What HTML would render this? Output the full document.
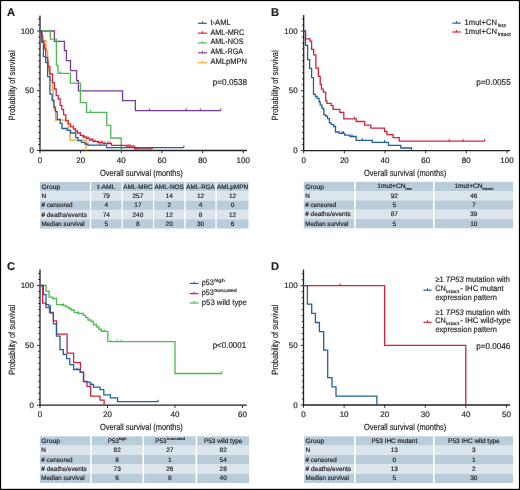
<!DOCTYPE html>
<html><head><meta charset="utf-8"><style>
html,body{margin:0;padding:0;background:#fff;}
body{width:520px;height:490px;overflow:hidden;}
svg{display:block;will-change:transform;}
text{font-family:"Liberation Sans", sans-serif;fill:#231f20;text-rendering:geometricPrecision;stroke:#231f20;stroke-width:0.18px;}
</style></head><body>
<svg width="520" height="490" viewBox="0 0 520 490">
<rect x="0" y="0" width="520" height="490" fill="#fff"/>
<text x="6.90" y="15.90" font-size="11.2" font-weight="bold">A</text>
<line x1="40.00" y1="15.40" x2="40.00" y2="151.15" stroke="#231f20" stroke-width="1.3"/>
<line x1="37.00" y1="150.50" x2="40.00" y2="150.50" stroke="#231f20" stroke-width="0.9"/>
<line x1="38.20" y1="144.53" x2="40.00" y2="144.53" stroke="#231f20" stroke-width="0.9"/>
<line x1="38.20" y1="138.55" x2="40.00" y2="138.55" stroke="#231f20" stroke-width="0.9"/>
<line x1="38.20" y1="132.57" x2="40.00" y2="132.57" stroke="#231f20" stroke-width="0.9"/>
<line x1="38.20" y1="126.60" x2="40.00" y2="126.60" stroke="#231f20" stroke-width="0.9"/>
<line x1="38.20" y1="120.62" x2="40.00" y2="120.62" stroke="#231f20" stroke-width="0.9"/>
<line x1="38.20" y1="114.65" x2="40.00" y2="114.65" stroke="#231f20" stroke-width="0.9"/>
<line x1="38.20" y1="108.67" x2="40.00" y2="108.67" stroke="#231f20" stroke-width="0.9"/>
<line x1="38.20" y1="102.70" x2="40.00" y2="102.70" stroke="#231f20" stroke-width="0.9"/>
<line x1="38.20" y1="96.72" x2="40.00" y2="96.72" stroke="#231f20" stroke-width="0.9"/>
<line x1="37.00" y1="90.75" x2="40.00" y2="90.75" stroke="#231f20" stroke-width="0.9"/>
<line x1="38.20" y1="84.77" x2="40.00" y2="84.77" stroke="#231f20" stroke-width="0.9"/>
<line x1="38.20" y1="78.80" x2="40.00" y2="78.80" stroke="#231f20" stroke-width="0.9"/>
<line x1="38.20" y1="72.83" x2="40.00" y2="72.83" stroke="#231f20" stroke-width="0.9"/>
<line x1="38.20" y1="66.85" x2="40.00" y2="66.85" stroke="#231f20" stroke-width="0.9"/>
<line x1="38.20" y1="60.88" x2="40.00" y2="60.88" stroke="#231f20" stroke-width="0.9"/>
<line x1="38.20" y1="54.90" x2="40.00" y2="54.90" stroke="#231f20" stroke-width="0.9"/>
<line x1="38.20" y1="48.92" x2="40.00" y2="48.92" stroke="#231f20" stroke-width="0.9"/>
<line x1="38.20" y1="42.95" x2="40.00" y2="42.95" stroke="#231f20" stroke-width="0.9"/>
<line x1="38.20" y1="36.97" x2="40.00" y2="36.97" stroke="#231f20" stroke-width="0.9"/>
<line x1="37.00" y1="31.00" x2="40.00" y2="31.00" stroke="#231f20" stroke-width="0.9"/>
<line x1="38.20" y1="25.02" x2="40.00" y2="25.02" stroke="#231f20" stroke-width="0.9"/>
<line x1="38.20" y1="19.05" x2="40.00" y2="19.05" stroke="#231f20" stroke-width="0.9"/>
<line x1="39.35" y1="150.50" x2="246.80" y2="150.50" stroke="#231f20" stroke-width="1.3"/>
<line x1="40.00" y1="150.50" x2="40.00" y2="153.30" stroke="#231f20" stroke-width="0.9"/>
<line x1="80.65" y1="150.50" x2="80.65" y2="153.30" stroke="#231f20" stroke-width="0.9"/>
<line x1="121.30" y1="150.50" x2="121.30" y2="153.30" stroke="#231f20" stroke-width="0.9"/>
<line x1="161.95" y1="150.50" x2="161.95" y2="153.30" stroke="#231f20" stroke-width="0.9"/>
<line x1="202.60" y1="150.50" x2="202.60" y2="153.30" stroke="#231f20" stroke-width="0.9"/>
<line x1="243.25" y1="150.50" x2="243.25" y2="153.30" stroke="#231f20" stroke-width="0.9"/>
<text x="34.00" y="33.60" font-size="8" text-anchor="end">100</text>
<text x="34.00" y="93.35" font-size="8" text-anchor="end">50</text>
<text x="34.00" y="153.10" font-size="8" text-anchor="end">0</text>
<text x="40.00" y="163.00" font-size="8" text-anchor="middle">0</text>
<text x="80.65" y="163.00" font-size="8" text-anchor="middle">20</text>
<text x="121.30" y="163.00" font-size="8" text-anchor="middle">40</text>
<text x="161.95" y="163.00" font-size="8" text-anchor="middle">60</text>
<text x="202.60" y="163.00" font-size="8" text-anchor="middle">80</text>
<text x="243.25" y="163.00" font-size="8" text-anchor="middle">100</text>
<text x="100.00" y="175.80" font-size="9.0" textLength="82.70" lengthAdjust="spacingAndGlyphs">Overall survival (months)</text>
<text x="0" y="0" font-size="9.0" transform="translate(14.6,120.2) rotate(-90)" textLength="69.8" lengthAdjust="spacingAndGlyphs">Probability of survival</text>
<path d="M40.00,31.00H54.40V41.30H64.40V50.70H66.40V60.70H70.50V70.60H76.60V80.70H78.40V90.80H122.60V100.60H135.40V110.60H220.80" fill="none" stroke="#7a3b93" stroke-width="1.3" stroke-linejoin="miter" stroke-linecap="butt"/>
<line x1="149.50" y1="110.60" x2="149.50" y2="108.60" stroke="#7a3b93" stroke-width="1.17"/>
<line x1="186.20" y1="110.60" x2="186.20" y2="108.60" stroke="#7a3b93" stroke-width="1.17"/>
<line x1="200.30" y1="110.60" x2="200.30" y2="108.60" stroke="#7a3b93" stroke-width="1.17"/>
<line x1="220.80" y1="110.60" x2="220.80" y2="108.60" stroke="#7a3b93" stroke-width="1.17"/>
<path d="M40.00,31.00H50.30V39.10H56.40V65.30H58.00V73.40H70.40V83.10H80.40V102.70H86.50V112.30H106.80V125.30H110.80V138.00H121.20V150.50" fill="none" stroke="#4cba4f" stroke-width="1.3" stroke-linejoin="miter" stroke-linecap="butt"/>
<line x1="60.50" y1="73.40" x2="60.50" y2="71.40" stroke="#4cba4f" stroke-width="1.17"/>
<line x1="90.50" y1="112.30" x2="90.50" y2="110.30" stroke="#4cba4f" stroke-width="1.17"/>
<path d="M40.00,31.00H41.80V40.70H46.00V50.60H47.60V60.60H48.50V70.50H50.00V80.40H52.30V90.40H53.00V100.30H54.30V110.20H55.50V120.20H68.30V130.10H70.00V140.10H86.20V150.50" fill="none" stroke="#f7a432" stroke-width="1.3" stroke-linejoin="miter" stroke-linecap="butt"/>
<path d="M40.00,31.00H41.00V33.00H41.80V36.00H42.80V41.30H44.00V45.00H44.70V48.90H45.70V57.60H47.70V66.30H49.80V74.00H52.50V82.60H54.40V89.00H56.20V95.70H58.30V99.00H60.20V105.60H61.90V109.60H63.60V114.90H65.80V120.80H68.30V123.80H70.50V126.50H73.50V129.00H75.50V131.00H77.50V133.00H80.40V135.40H83.00V137.00H86.20V138.30H89.60V140.00H93.00V141.50H97.70V142.50H103.00V143.60H111.50V145.40H126.00V146.20H134.60V148.90H152.30" fill="none" stroke="#d4213e" stroke-width="1.3" stroke-linejoin="miter" stroke-linecap="butt"/>
<line x1="84.00" y1="137.00" x2="84.00" y2="135.00" stroke="#d4213e" stroke-width="1.17"/>
<line x1="88.00" y1="138.30" x2="88.00" y2="136.30" stroke="#d4213e" stroke-width="1.17"/>
<line x1="92.00" y1="140.00" x2="92.00" y2="138.00" stroke="#d4213e" stroke-width="1.17"/>
<line x1="95.00" y1="141.50" x2="95.00" y2="139.50" stroke="#d4213e" stroke-width="1.17"/>
<line x1="99.00" y1="142.50" x2="99.00" y2="140.50" stroke="#d4213e" stroke-width="1.17"/>
<line x1="102.00" y1="142.50" x2="102.00" y2="140.50" stroke="#d4213e" stroke-width="1.17"/>
<line x1="105.00" y1="143.60" x2="105.00" y2="141.60" stroke="#d4213e" stroke-width="1.17"/>
<line x1="108.00" y1="143.60" x2="108.00" y2="141.60" stroke="#d4213e" stroke-width="1.17"/>
<line x1="110.00" y1="143.60" x2="110.00" y2="141.60" stroke="#d4213e" stroke-width="1.17"/>
<line x1="128.00" y1="146.20" x2="128.00" y2="144.20" stroke="#d4213e" stroke-width="1.17"/>
<line x1="130.00" y1="146.20" x2="130.00" y2="144.20" stroke="#d4213e" stroke-width="1.17"/>
<line x1="136.00" y1="148.90" x2="136.00" y2="146.90" stroke="#d4213e" stroke-width="1.17"/>
<line x1="149.00" y1="148.90" x2="149.00" y2="146.90" stroke="#d4213e" stroke-width="1.17"/>
<line x1="152.30" y1="148.90" x2="152.30" y2="146.90" stroke="#d4213e" stroke-width="1.17"/>
<path d="M40.00,31.00H41.80V42.30H43.40V56.60H45.70V62.70H47.60V76.70H49.90V94.20H52.10V100.30H53.80V107.10H55.50V111.60H57.20V119.40H60.20V123.30H62.00V128.50H67.10V130.40H70.60V133.00H75.80V137.70H78.00V140.60H81.50V142.30H85.00V144.00H87.90V145.20H106.70V147.60H183.90" fill="none" stroke="#23609c" stroke-width="1.3" stroke-linejoin="miter" stroke-linecap="butt"/>
<line x1="100.00" y1="145.20" x2="100.00" y2="143.20" stroke="#23609c" stroke-width="1.17"/>
<line x1="183.90" y1="147.60" x2="183.90" y2="145.60" stroke="#23609c" stroke-width="1.17"/>
<line x1="198.00" y1="23.30" x2="206.90" y2="23.30" stroke="#23609c" stroke-width="1.2"/>
<line x1="202.45" y1="23.30" x2="202.45" y2="21.30" stroke="#23609c" stroke-width="1.0"/>
<text x="210.40" y="24.75" font-size="8.0" textLength="20.40" lengthAdjust="spacingAndGlyphs">t-AML</text>
<line x1="198.00" y1="33.15" x2="206.90" y2="33.15" stroke="#d4213e" stroke-width="1.2"/>
<line x1="202.45" y1="33.15" x2="202.45" y2="31.15" stroke="#d4213e" stroke-width="1.0"/>
<text x="210.40" y="34.60" font-size="8.0" textLength="34.00" lengthAdjust="spacingAndGlyphs">AML-MRC</text>
<line x1="198.00" y1="43.00" x2="206.90" y2="43.00" stroke="#4cba4f" stroke-width="1.2"/>
<line x1="202.45" y1="43.00" x2="202.45" y2="41.00" stroke="#4cba4f" stroke-width="1.0"/>
<text x="210.40" y="44.45" font-size="8.0" textLength="33.20" lengthAdjust="spacingAndGlyphs">AML-NOS</text>
<line x1="198.00" y1="52.85" x2="206.90" y2="52.85" stroke="#7a3b93" stroke-width="1.2"/>
<line x1="202.45" y1="52.85" x2="202.45" y2="50.85" stroke="#7a3b93" stroke-width="1.0"/>
<text x="210.40" y="54.30" font-size="8.0" textLength="32.60" lengthAdjust="spacingAndGlyphs">AML-RGA</text>
<line x1="198.00" y1="62.70" x2="206.90" y2="62.70" stroke="#f7a432" stroke-width="1.2"/>
<line x1="202.45" y1="62.70" x2="202.45" y2="60.70" stroke="#f7a432" stroke-width="1.0"/>
<text x="210.40" y="64.15" font-size="8.0" textLength="36.60" lengthAdjust="spacingAndGlyphs">AMLpMPN</text>
<text x="212.80" y="84.70" font-size="8.6" textLength="34.30" lengthAdjust="spacingAndGlyphs">p=0.0538</text>
<rect x="40.00" y="182.00" width="49.90" height="9.30" fill="#b9ccda"/>
<rect x="91.20" y="182.00" width="30.30" height="9.30" fill="#b9ccda"/>
<rect x="122.80" y="182.00" width="30.20" height="9.30" fill="#b9ccda"/>
<rect x="154.20" y="182.00" width="30.00" height="9.30" fill="#b9ccda"/>
<rect x="185.60" y="182.00" width="29.80" height="9.30" fill="#b9ccda"/>
<rect x="216.70" y="182.00" width="31.80" height="9.30" fill="#b9ccda"/>
<rect x="40.00" y="191.30" width="49.90" height="9.30" fill="#dce4ec"/>
<rect x="91.20" y="191.30" width="30.30" height="9.30" fill="#dce4ec"/>
<rect x="122.80" y="191.30" width="30.20" height="9.30" fill="#dce4ec"/>
<rect x="154.20" y="191.30" width="30.00" height="9.30" fill="#dce4ec"/>
<rect x="185.60" y="191.30" width="29.80" height="9.30" fill="#dce4ec"/>
<rect x="216.70" y="191.30" width="31.80" height="9.30" fill="#dce4ec"/>
<rect x="40.00" y="200.60" width="49.90" height="9.30" fill="#b9ccda"/>
<rect x="91.20" y="200.60" width="30.30" height="9.30" fill="#b9ccda"/>
<rect x="122.80" y="200.60" width="30.20" height="9.30" fill="#b9ccda"/>
<rect x="154.20" y="200.60" width="30.00" height="9.30" fill="#b9ccda"/>
<rect x="185.60" y="200.60" width="29.80" height="9.30" fill="#b9ccda"/>
<rect x="216.70" y="200.60" width="31.80" height="9.30" fill="#b9ccda"/>
<rect x="40.00" y="209.90" width="49.90" height="9.30" fill="#dce4ec"/>
<rect x="91.20" y="209.90" width="30.30" height="9.30" fill="#dce4ec"/>
<rect x="122.80" y="209.90" width="30.20" height="9.30" fill="#dce4ec"/>
<rect x="154.20" y="209.90" width="30.00" height="9.30" fill="#dce4ec"/>
<rect x="185.60" y="209.90" width="29.80" height="9.30" fill="#dce4ec"/>
<rect x="216.70" y="209.90" width="31.80" height="9.30" fill="#dce4ec"/>
<rect x="40.00" y="219.20" width="49.90" height="9.30" fill="#b9ccda"/>
<rect x="91.20" y="219.20" width="30.30" height="9.30" fill="#b9ccda"/>
<rect x="122.80" y="219.20" width="30.20" height="9.30" fill="#b9ccda"/>
<rect x="154.20" y="219.20" width="30.00" height="9.30" fill="#b9ccda"/>
<rect x="185.60" y="219.20" width="29.80" height="9.30" fill="#b9ccda"/>
<rect x="216.70" y="219.20" width="31.80" height="9.30" fill="#b9ccda"/>
<text x="41.40" y="188.75" font-size="6.5" textLength="18.80" lengthAdjust="spacingAndGlyphs" stroke-width="0.08">Group</text>
<text x="106.35" y="188.75" font-size="6.5" text-anchor="middle" textLength="18.20" lengthAdjust="spacingAndGlyphs" stroke-width="0.08">t-AML</text>
<text x="137.90" y="188.75" font-size="6.5" text-anchor="middle" textLength="29.30" lengthAdjust="spacingAndGlyphs" stroke-width="0.08">AML-MRC</text>
<text x="169.20" y="188.75" font-size="6.5" text-anchor="middle" textLength="29.40" lengthAdjust="spacingAndGlyphs" stroke-width="0.08">AML-NOS</text>
<text x="200.50" y="188.75" font-size="6.5" text-anchor="middle" textLength="28.40" lengthAdjust="spacingAndGlyphs" stroke-width="0.08">AML-RGA</text>
<text x="232.60" y="188.75" font-size="6.5" text-anchor="middle" textLength="31.00" lengthAdjust="spacingAndGlyphs" stroke-width="0.08">AMLpMPN</text>
<text x="41.40" y="198.05" font-size="6.5" textLength="4.60" lengthAdjust="spacingAndGlyphs" stroke-width="0.08">N</text>
<text x="106.35" y="198.05" font-size="6.5" text-anchor="middle" stroke-width="0.08">79</text>
<text x="137.90" y="198.05" font-size="6.5" text-anchor="middle" stroke-width="0.08">257</text>
<text x="169.20" y="198.05" font-size="6.5" text-anchor="middle" stroke-width="0.08">14</text>
<text x="200.50" y="198.05" font-size="6.5" text-anchor="middle" stroke-width="0.08">12</text>
<text x="232.60" y="198.05" font-size="6.5" text-anchor="middle" stroke-width="0.08">12</text>
<text x="41.40" y="207.35" font-size="6.5" textLength="31.20" lengthAdjust="spacingAndGlyphs" stroke-width="0.08"># censored</text>
<text x="106.35" y="207.35" font-size="6.5" text-anchor="middle" stroke-width="0.08">4</text>
<text x="137.90" y="207.35" font-size="6.5" text-anchor="middle" stroke-width="0.08">17</text>
<text x="169.20" y="207.35" font-size="6.5" text-anchor="middle" stroke-width="0.08">2</text>
<text x="200.50" y="207.35" font-size="6.5" text-anchor="middle" stroke-width="0.08">4</text>
<text x="232.60" y="207.35" font-size="6.5" text-anchor="middle" stroke-width="0.08">0</text>
<text x="41.40" y="216.65" font-size="6.5" textLength="45.50" lengthAdjust="spacingAndGlyphs" stroke-width="0.08"># deaths/events</text>
<text x="106.35" y="216.65" font-size="6.5" text-anchor="middle" stroke-width="0.08">74</text>
<text x="137.90" y="216.65" font-size="6.5" text-anchor="middle" stroke-width="0.08">240</text>
<text x="169.20" y="216.65" font-size="6.5" text-anchor="middle" stroke-width="0.08">12</text>
<text x="200.50" y="216.65" font-size="6.5" text-anchor="middle" stroke-width="0.08">8</text>
<text x="232.60" y="216.65" font-size="6.5" text-anchor="middle" stroke-width="0.08">12</text>
<text x="41.40" y="225.95" font-size="6.5" textLength="43.30" lengthAdjust="spacingAndGlyphs" stroke-width="0.08">Median survival</text>
<text x="106.35" y="225.95" font-size="6.5" text-anchor="middle" stroke-width="0.08">5</text>
<text x="137.90" y="225.95" font-size="6.5" text-anchor="middle" stroke-width="0.08">8</text>
<text x="169.20" y="225.95" font-size="6.5" text-anchor="middle" stroke-width="0.08">20</text>
<text x="200.50" y="225.95" font-size="6.5" text-anchor="middle" stroke-width="0.08">30</text>
<text x="232.60" y="225.95" font-size="6.5" text-anchor="middle" stroke-width="0.08">6</text>
<text x="271.00" y="15.70" font-size="11.2" font-weight="bold">B</text>
<line x1="303.70" y1="14.90" x2="303.70" y2="151.25" stroke="#231f20" stroke-width="1.3"/>
<line x1="300.70" y1="150.60" x2="303.70" y2="150.60" stroke="#231f20" stroke-width="0.9"/>
<line x1="301.90" y1="144.62" x2="303.70" y2="144.62" stroke="#231f20" stroke-width="0.9"/>
<line x1="301.90" y1="138.64" x2="303.70" y2="138.64" stroke="#231f20" stroke-width="0.9"/>
<line x1="301.90" y1="132.66" x2="303.70" y2="132.66" stroke="#231f20" stroke-width="0.9"/>
<line x1="301.90" y1="126.68" x2="303.70" y2="126.68" stroke="#231f20" stroke-width="0.9"/>
<line x1="301.90" y1="120.70" x2="303.70" y2="120.70" stroke="#231f20" stroke-width="0.9"/>
<line x1="301.90" y1="114.72" x2="303.70" y2="114.72" stroke="#231f20" stroke-width="0.9"/>
<line x1="301.90" y1="108.74" x2="303.70" y2="108.74" stroke="#231f20" stroke-width="0.9"/>
<line x1="301.90" y1="102.76" x2="303.70" y2="102.76" stroke="#231f20" stroke-width="0.9"/>
<line x1="301.90" y1="96.78" x2="303.70" y2="96.78" stroke="#231f20" stroke-width="0.9"/>
<line x1="300.70" y1="90.80" x2="303.70" y2="90.80" stroke="#231f20" stroke-width="0.9"/>
<line x1="301.90" y1="84.82" x2="303.70" y2="84.82" stroke="#231f20" stroke-width="0.9"/>
<line x1="301.90" y1="78.84" x2="303.70" y2="78.84" stroke="#231f20" stroke-width="0.9"/>
<line x1="301.90" y1="72.86" x2="303.70" y2="72.86" stroke="#231f20" stroke-width="0.9"/>
<line x1="301.90" y1="66.88" x2="303.70" y2="66.88" stroke="#231f20" stroke-width="0.9"/>
<line x1="301.90" y1="60.90" x2="303.70" y2="60.90" stroke="#231f20" stroke-width="0.9"/>
<line x1="301.90" y1="54.92" x2="303.70" y2="54.92" stroke="#231f20" stroke-width="0.9"/>
<line x1="301.90" y1="48.94" x2="303.70" y2="48.94" stroke="#231f20" stroke-width="0.9"/>
<line x1="301.90" y1="42.96" x2="303.70" y2="42.96" stroke="#231f20" stroke-width="0.9"/>
<line x1="301.90" y1="36.98" x2="303.70" y2="36.98" stroke="#231f20" stroke-width="0.9"/>
<line x1="300.70" y1="31.00" x2="303.70" y2="31.00" stroke="#231f20" stroke-width="0.9"/>
<line x1="301.90" y1="25.02" x2="303.70" y2="25.02" stroke="#231f20" stroke-width="0.9"/>
<line x1="301.90" y1="19.04" x2="303.70" y2="19.04" stroke="#231f20" stroke-width="0.9"/>
<line x1="303.05" y1="150.60" x2="510.20" y2="150.60" stroke="#231f20" stroke-width="1.3"/>
<line x1="303.70" y1="150.60" x2="303.70" y2="153.40" stroke="#231f20" stroke-width="0.9"/>
<line x1="344.35" y1="150.60" x2="344.35" y2="153.40" stroke="#231f20" stroke-width="0.9"/>
<line x1="385.00" y1="150.60" x2="385.00" y2="153.40" stroke="#231f20" stroke-width="0.9"/>
<line x1="425.65" y1="150.60" x2="425.65" y2="153.40" stroke="#231f20" stroke-width="0.9"/>
<line x1="466.30" y1="150.60" x2="466.30" y2="153.40" stroke="#231f20" stroke-width="0.9"/>
<line x1="506.95" y1="150.60" x2="506.95" y2="153.40" stroke="#231f20" stroke-width="0.9"/>
<text x="297.60" y="33.60" font-size="8" text-anchor="end">100</text>
<text x="297.60" y="93.40" font-size="8" text-anchor="end">50</text>
<text x="297.60" y="153.20" font-size="8" text-anchor="end">0</text>
<text x="303.70" y="163.20" font-size="8" text-anchor="middle">0</text>
<text x="344.35" y="163.20" font-size="8" text-anchor="middle">20</text>
<text x="385.00" y="163.20" font-size="8" text-anchor="middle">40</text>
<text x="425.65" y="163.20" font-size="8" text-anchor="middle">60</text>
<text x="466.30" y="163.20" font-size="8" text-anchor="middle">80</text>
<text x="506.95" y="163.20" font-size="8" text-anchor="middle">100</text>
<text x="364.00" y="175.80" font-size="9.0" textLength="82.30" lengthAdjust="spacingAndGlyphs">Overall survival (months)</text>
<text x="0" y="0" font-size="9.0" transform="translate(278.3,120.2) rotate(-90)" textLength="69.8" lengthAdjust="spacingAndGlyphs">Probability of survival</text>
<path d="M303.70,31.00H305.50V38.80H310.00V41.20H311.60V49.40H313.70V54.90H315.90V68.20H318.40V76.40H320.20V84.30H321.40V89.20H323.30V92.20H325.70V100.80H326.90V103.30H331.20V105.70H333.10V109.40H339.80V112.40H343.80V118.80H356.20V121.50H364.60V125.10H370.80V128.20H384.60V131.50H386.90V134.60H393.10V137.70H399.20V141.20H484.60" fill="none" stroke="#d4213e" stroke-width="1.3" stroke-linejoin="miter" stroke-linecap="butt"/>
<line x1="354.60" y1="118.80" x2="354.60" y2="116.80" stroke="#d4213e" stroke-width="1.17"/>
<line x1="449.20" y1="141.20" x2="449.20" y2="139.20" stroke="#d4213e" stroke-width="1.17"/>
<line x1="463.00" y1="141.20" x2="463.00" y2="139.20" stroke="#d4213e" stroke-width="1.17"/>
<line x1="484.60" y1="141.20" x2="484.60" y2="139.20" stroke="#d4213e" stroke-width="1.17"/>
<path d="M303.70,31.00H305.50V45.40H307.60V59.60H309.60V68.40H311.60V77.60H313.50V94.40H315.30V96.50H317.10V98.40H319.00V102.00H320.20V105.10H322.00V108.20H323.30V109.40H323.90V114.90H325.70V116.10H327.50V118.60H329.40V122.90H331.20V124.70H333.70V126.50H335.50V132.00H339.20V133.30H344.60V135.10H350.00V136.50H356.20V140.30H372.30V142.30H388.50V145.40H400.80V148.00H411.50V150.60" fill="none" stroke="#23609c" stroke-width="1.3" stroke-linejoin="miter" stroke-linecap="butt"/>
<line x1="342.00" y1="133.30" x2="342.00" y2="131.30" stroke="#23609c" stroke-width="1.17"/>
<line x1="343.50" y1="133.30" x2="343.50" y2="131.30" stroke="#23609c" stroke-width="1.17"/>
<line x1="352.00" y1="136.50" x2="352.00" y2="134.50" stroke="#23609c" stroke-width="1.17"/>
<line x1="362.30" y1="140.30" x2="362.30" y2="138.30" stroke="#23609c" stroke-width="1.17"/>
<line x1="384.60" y1="142.30" x2="384.60" y2="140.30" stroke="#23609c" stroke-width="1.17"/>
<line x1="452.30" y1="23.10" x2="460.80" y2="23.10" stroke="#23609c" stroke-width="1.2"/>
<line x1="456.55" y1="23.10" x2="456.55" y2="21.10" stroke="#23609c" stroke-width="1.0"/>
<line x1="452.30" y1="32.00" x2="460.80" y2="32.00" stroke="#d4213e" stroke-width="1.2"/>
<line x1="456.55" y1="32.00" x2="456.55" y2="30.00" stroke="#d4213e" stroke-width="1.0"/>
<text x="464.60" y="25.10" font-size="8.0" textLength="32.30" lengthAdjust="spacingAndGlyphs">1mut+CN</text>
<text x="497.80" y="26.60" font-size="5.0" textLength="8.40" lengthAdjust="spacingAndGlyphs" stroke-width="0">loss</text>
<text x="464.60" y="34.30" font-size="8.0" textLength="32.30" lengthAdjust="spacingAndGlyphs">1mut+CN</text>
<text x="497.80" y="35.50" font-size="5.0" textLength="13.00" lengthAdjust="spacingAndGlyphs" stroke-width="0">intact</text>
<text x="476.20" y="84.80" font-size="8.6" textLength="34.60" lengthAdjust="spacingAndGlyphs">p=0.0055</text>
<rect x="303.80" y="181.80" width="50.30" height="9.30" fill="#b9ccda"/>
<rect x="355.70" y="181.80" width="77.30" height="9.30" fill="#b9ccda"/>
<rect x="434.60" y="181.80" width="78.50" height="9.30" fill="#b9ccda"/>
<rect x="303.80" y="191.10" width="50.30" height="9.30" fill="#dce4ec"/>
<rect x="355.70" y="191.10" width="77.30" height="9.30" fill="#dce4ec"/>
<rect x="434.60" y="191.10" width="78.50" height="9.30" fill="#dce4ec"/>
<rect x="303.80" y="200.40" width="50.30" height="9.30" fill="#b9ccda"/>
<rect x="355.70" y="200.40" width="77.30" height="9.30" fill="#b9ccda"/>
<rect x="434.60" y="200.40" width="78.50" height="9.30" fill="#b9ccda"/>
<rect x="303.80" y="209.70" width="50.30" height="9.30" fill="#dce4ec"/>
<rect x="355.70" y="209.70" width="77.30" height="9.30" fill="#dce4ec"/>
<rect x="434.60" y="209.70" width="78.50" height="9.30" fill="#dce4ec"/>
<rect x="303.80" y="219.00" width="50.30" height="9.30" fill="#b9ccda"/>
<rect x="355.70" y="219.00" width="77.30" height="9.30" fill="#b9ccda"/>
<rect x="434.60" y="219.00" width="78.50" height="9.30" fill="#b9ccda"/>
<text x="305.20" y="188.55" font-size="6.5" textLength="18.80" lengthAdjust="spacingAndGlyphs" stroke-width="0.08">Group</text>
<text x="305.20" y="197.85" font-size="6.5" textLength="4.60" lengthAdjust="spacingAndGlyphs" stroke-width="0.08">N</text>
<text x="394.35" y="197.85" font-size="6.5" text-anchor="middle" stroke-width="0.08">92</text>
<text x="473.85" y="197.85" font-size="6.5" text-anchor="middle" stroke-width="0.08">46</text>
<text x="305.20" y="207.15" font-size="6.5" textLength="31.20" lengthAdjust="spacingAndGlyphs" stroke-width="0.08"># censored</text>
<text x="394.35" y="207.15" font-size="6.5" text-anchor="middle" stroke-width="0.08">5</text>
<text x="473.85" y="207.15" font-size="6.5" text-anchor="middle" stroke-width="0.08">7</text>
<text x="305.20" y="216.45" font-size="6.5" textLength="45.50" lengthAdjust="spacingAndGlyphs" stroke-width="0.08"># deaths/events</text>
<text x="394.35" y="216.45" font-size="6.5" text-anchor="middle" stroke-width="0.08">87</text>
<text x="473.85" y="216.45" font-size="6.5" text-anchor="middle" stroke-width="0.08">39</text>
<text x="305.20" y="225.75" font-size="6.5" textLength="43.30" lengthAdjust="spacingAndGlyphs" stroke-width="0.08">Median survival</text>
<text x="394.35" y="225.75" font-size="6.5" text-anchor="middle" stroke-width="0.08">5</text>
<text x="473.85" y="225.75" font-size="6.5" text-anchor="middle" stroke-width="0.08">10</text>
<text x="377.30" y="188.30" font-size="6.5" textLength="28.20" lengthAdjust="spacingAndGlyphs" stroke-width="0.08">1mut+CN</text>
<text x="405.60" y="189.70" font-size="3.8" textLength="6.30" lengthAdjust="spacingAndGlyphs" stroke-width="0">loss</text>
<text x="454.40" y="188.30" font-size="6.5" textLength="28.20" lengthAdjust="spacingAndGlyphs" stroke-width="0.08">1mut+CN</text>
<text x="482.40" y="189.70" font-size="3.8" textLength="11.10" lengthAdjust="spacingAndGlyphs" stroke-width="0">intact</text>
<text x="6.90" y="270.20" font-size="11.2" font-weight="bold">C</text>
<line x1="40.00" y1="269.60" x2="40.00" y2="405.85" stroke="#231f20" stroke-width="1.3"/>
<line x1="37.00" y1="405.20" x2="40.00" y2="405.20" stroke="#231f20" stroke-width="0.9"/>
<line x1="38.20" y1="399.21" x2="40.00" y2="399.21" stroke="#231f20" stroke-width="0.9"/>
<line x1="38.20" y1="393.23" x2="40.00" y2="393.23" stroke="#231f20" stroke-width="0.9"/>
<line x1="38.20" y1="387.25" x2="40.00" y2="387.25" stroke="#231f20" stroke-width="0.9"/>
<line x1="38.20" y1="381.26" x2="40.00" y2="381.26" stroke="#231f20" stroke-width="0.9"/>
<line x1="38.20" y1="375.27" x2="40.00" y2="375.27" stroke="#231f20" stroke-width="0.9"/>
<line x1="38.20" y1="369.29" x2="40.00" y2="369.29" stroke="#231f20" stroke-width="0.9"/>
<line x1="38.20" y1="363.31" x2="40.00" y2="363.31" stroke="#231f20" stroke-width="0.9"/>
<line x1="38.20" y1="357.32" x2="40.00" y2="357.32" stroke="#231f20" stroke-width="0.9"/>
<line x1="38.20" y1="351.33" x2="40.00" y2="351.33" stroke="#231f20" stroke-width="0.9"/>
<line x1="37.00" y1="345.35" x2="40.00" y2="345.35" stroke="#231f20" stroke-width="0.9"/>
<line x1="38.20" y1="339.37" x2="40.00" y2="339.37" stroke="#231f20" stroke-width="0.9"/>
<line x1="38.20" y1="333.38" x2="40.00" y2="333.38" stroke="#231f20" stroke-width="0.9"/>
<line x1="38.20" y1="327.39" x2="40.00" y2="327.39" stroke="#231f20" stroke-width="0.9"/>
<line x1="38.20" y1="321.41" x2="40.00" y2="321.41" stroke="#231f20" stroke-width="0.9"/>
<line x1="38.20" y1="315.43" x2="40.00" y2="315.43" stroke="#231f20" stroke-width="0.9"/>
<line x1="38.20" y1="309.44" x2="40.00" y2="309.44" stroke="#231f20" stroke-width="0.9"/>
<line x1="38.20" y1="303.45" x2="40.00" y2="303.45" stroke="#231f20" stroke-width="0.9"/>
<line x1="38.20" y1="297.47" x2="40.00" y2="297.47" stroke="#231f20" stroke-width="0.9"/>
<line x1="38.20" y1="291.49" x2="40.00" y2="291.49" stroke="#231f20" stroke-width="0.9"/>
<line x1="37.00" y1="285.50" x2="40.00" y2="285.50" stroke="#231f20" stroke-width="0.9"/>
<line x1="38.20" y1="279.51" x2="40.00" y2="279.51" stroke="#231f20" stroke-width="0.9"/>
<line x1="38.20" y1="273.53" x2="40.00" y2="273.53" stroke="#231f20" stroke-width="0.9"/>
<line x1="39.35" y1="405.20" x2="246.80" y2="405.20" stroke="#231f20" stroke-width="1.3"/>
<line x1="40.00" y1="405.20" x2="40.00" y2="408.00" stroke="#231f20" stroke-width="0.9"/>
<line x1="107.50" y1="405.20" x2="107.50" y2="408.00" stroke="#231f20" stroke-width="0.9"/>
<line x1="175.00" y1="405.20" x2="175.00" y2="408.00" stroke="#231f20" stroke-width="0.9"/>
<line x1="242.50" y1="405.20" x2="242.50" y2="408.00" stroke="#231f20" stroke-width="0.9"/>
<text x="34.00" y="288.10" font-size="8" text-anchor="end">100</text>
<text x="34.00" y="347.95" font-size="8" text-anchor="end">50</text>
<text x="34.00" y="407.80" font-size="8" text-anchor="end">0</text>
<text x="40.00" y="417.00" font-size="8" text-anchor="middle">0</text>
<text x="107.50" y="417.00" font-size="8" text-anchor="middle">20</text>
<text x="175.00" y="417.00" font-size="8" text-anchor="middle">40</text>
<text x="242.50" y="417.00" font-size="8" text-anchor="middle">60</text>
<text x="100.00" y="430.40" font-size="9.0" textLength="82.70" lengthAdjust="spacingAndGlyphs">Overall survival (months)</text>
<text x="0" y="0" font-size="9.0" transform="translate(14.6,374.8) rotate(-90)" textLength="70.2" lengthAdjust="spacingAndGlyphs">Probability of survival</text>
<path d="M40.00,285.50H46.00V291.10H49.10V297.20H52.60V298.50H56.50V304.60H62.60V305.40H65.70V306.90H68.80V308.50H71.10V310.00H74.20V312.30H78.00V313.50H83.40V315.40H85.70V317.70H88.00V320.00H91.10V321.50H93.40V324.90H96.50V326.90H98.80V329.20H101.10V331.30H107.80V341.70H175.00V373.50H222.00" fill="none" stroke="#4cba4f" stroke-width="1.3" stroke-linejoin="miter" stroke-linecap="butt"/>
<line x1="101.50" y1="331.30" x2="101.50" y2="329.30" stroke="#4cba4f" stroke-width="1.17"/>
<line x1="104.20" y1="331.30" x2="104.20" y2="329.30" stroke="#4cba4f" stroke-width="1.17"/>
<line x1="110.60" y1="341.70" x2="110.60" y2="339.70" stroke="#4cba4f" stroke-width="1.17"/>
<line x1="117.30" y1="341.70" x2="117.30" y2="339.70" stroke="#4cba4f" stroke-width="1.17"/>
<line x1="121.20" y1="341.70" x2="121.20" y2="339.70" stroke="#4cba4f" stroke-width="1.17"/>
<line x1="222.00" y1="373.50" x2="222.00" y2="371.50" stroke="#4cba4f" stroke-width="1.17"/>
<line x1="63.50" y1="305.40" x2="63.50" y2="303.40" stroke="#4cba4f" stroke-width="1.17"/>
<line x1="78.50" y1="313.50" x2="78.50" y2="311.50" stroke="#4cba4f" stroke-width="1.17"/>
<line x1="96.00" y1="324.90" x2="96.00" y2="322.90" stroke="#4cba4f" stroke-width="1.17"/>
<path d="M40.00,285.50H42.60V303.10H46.00V307.70H49.50V312.30H53.40V320.80H56.50V334.10H67.10V353.20H73.60V362.70H80.40V372.40H83.70V381.90H87.00V386.30H90.60V396.10H100.00V400.20H104.10V405.20" fill="none" stroke="#d4213e" stroke-width="1.3" stroke-linejoin="miter" stroke-linecap="butt"/>
<path d="M40.00,285.50H43.40V294.60H46.00V304.60H48.50V305.80H50.30V313.10H53.40V323.80H56.50V336.20H60.00V349.60H63.30V354.50H66.60V358.60H69.80V364.60H73.60V369.50H80.10V372.10H83.40V381.40H87.00V382.20H90.20V384.70H93.50V387.10H100.00V389.60H103.80V394.80H110.30V397.80H117.50V401.70H158.10" fill="none" stroke="#23609c" stroke-width="1.3" stroke-linejoin="miter" stroke-linecap="butt"/>
<line x1="77.00" y1="369.50" x2="77.00" y2="367.50" stroke="#23609c" stroke-width="1.17"/>
<line x1="92.00" y1="384.70" x2="92.00" y2="382.70" stroke="#23609c" stroke-width="1.17"/>
<line x1="158.10" y1="401.70" x2="158.10" y2="399.70" stroke="#23609c" stroke-width="1.17"/>
<line x1="189.70" y1="283.50" x2="198.50" y2="283.50" stroke="#23609c" stroke-width="1.2"/>
<line x1="194.10" y1="283.50" x2="194.10" y2="281.50" stroke="#23609c" stroke-width="1.0"/>
<line x1="189.70" y1="293.60" x2="198.50" y2="293.60" stroke="#d4213e" stroke-width="1.2"/>
<line x1="194.10" y1="293.60" x2="194.10" y2="291.60" stroke="#d4213e" stroke-width="1.0"/>
<line x1="189.70" y1="303.00" x2="198.50" y2="303.00" stroke="#4cba4f" stroke-width="1.2"/>
<line x1="194.10" y1="303.00" x2="194.10" y2="301.00" stroke="#4cba4f" stroke-width="1.0"/>
<text x="201.80" y="285.10" font-size="8.0" textLength="12.10" lengthAdjust="spacingAndGlyphs">p53</text>
<text x="214.30" y="282.10" font-size="4.6" textLength="10.40" lengthAdjust="spacingAndGlyphs" stroke-width="0">high</text>
<text x="201.80" y="295.00" font-size="8.0" textLength="12.10" lengthAdjust="spacingAndGlyphs">p53</text>
<text x="214.30" y="292.00" font-size="4.6" textLength="22.50" lengthAdjust="spacingAndGlyphs" stroke-width="0">truncated</text>
<text x="201.80" y="304.60" font-size="8.0" textLength="45.10" lengthAdjust="spacingAndGlyphs">p53 wild type</text>
<text x="212.70" y="347.90" font-size="8.6" textLength="33.50" lengthAdjust="spacingAndGlyphs">p&lt;0.0001</text>
<rect x="39.90" y="436.30" width="50.30" height="9.35" fill="#b9ccda"/>
<rect x="91.80" y="436.30" width="50.70" height="9.35" fill="#b9ccda"/>
<rect x="144.10" y="436.30" width="51.40" height="9.35" fill="#b9ccda"/>
<rect x="197.20" y="436.30" width="51.90" height="9.35" fill="#b9ccda"/>
<rect x="39.90" y="445.65" width="50.30" height="9.35" fill="#dce4ec"/>
<rect x="91.80" y="445.65" width="50.70" height="9.35" fill="#dce4ec"/>
<rect x="144.10" y="445.65" width="51.40" height="9.35" fill="#dce4ec"/>
<rect x="197.20" y="445.65" width="51.90" height="9.35" fill="#dce4ec"/>
<rect x="39.90" y="455.00" width="50.30" height="9.35" fill="#b9ccda"/>
<rect x="91.80" y="455.00" width="50.70" height="9.35" fill="#b9ccda"/>
<rect x="144.10" y="455.00" width="51.40" height="9.35" fill="#b9ccda"/>
<rect x="197.20" y="455.00" width="51.90" height="9.35" fill="#b9ccda"/>
<rect x="39.90" y="464.35" width="50.30" height="9.35" fill="#dce4ec"/>
<rect x="91.80" y="464.35" width="50.70" height="9.35" fill="#dce4ec"/>
<rect x="144.10" y="464.35" width="51.40" height="9.35" fill="#dce4ec"/>
<rect x="197.20" y="464.35" width="51.90" height="9.35" fill="#dce4ec"/>
<rect x="39.90" y="473.70" width="50.30" height="9.35" fill="#b9ccda"/>
<rect x="91.80" y="473.70" width="50.70" height="9.35" fill="#b9ccda"/>
<rect x="144.10" y="473.70" width="51.40" height="9.35" fill="#b9ccda"/>
<rect x="197.20" y="473.70" width="51.90" height="9.35" fill="#b9ccda"/>
<text x="41.30" y="443.05" font-size="6.5" textLength="18.80" lengthAdjust="spacingAndGlyphs" stroke-width="0.08">Group</text>
<text x="223.15" y="443.05" font-size="6.5" text-anchor="middle" textLength="38.30" lengthAdjust="spacingAndGlyphs" stroke-width="0.08">P53 wild type</text>
<text x="41.30" y="452.40" font-size="6.5" textLength="4.60" lengthAdjust="spacingAndGlyphs" stroke-width="0.08">N</text>
<text x="117.15" y="452.40" font-size="6.5" text-anchor="middle" stroke-width="0.08">82</text>
<text x="169.80" y="452.40" font-size="6.5" text-anchor="middle" stroke-width="0.08">27</text>
<text x="223.15" y="452.40" font-size="6.5" text-anchor="middle" stroke-width="0.08">82</text>
<text x="41.30" y="461.75" font-size="6.5" textLength="31.20" lengthAdjust="spacingAndGlyphs" stroke-width="0.08"># censored</text>
<text x="117.15" y="461.75" font-size="6.5" text-anchor="middle" stroke-width="0.08">8</text>
<text x="169.80" y="461.75" font-size="6.5" text-anchor="middle" stroke-width="0.08">1</text>
<text x="223.15" y="461.75" font-size="6.5" text-anchor="middle" stroke-width="0.08">54</text>
<text x="41.30" y="471.10" font-size="6.5" textLength="45.50" lengthAdjust="spacingAndGlyphs" stroke-width="0.08"># deaths/events</text>
<text x="117.15" y="471.10" font-size="6.5" text-anchor="middle" stroke-width="0.08">73</text>
<text x="169.80" y="471.10" font-size="6.5" text-anchor="middle" stroke-width="0.08">26</text>
<text x="223.15" y="471.10" font-size="6.5" text-anchor="middle" stroke-width="0.08">28</text>
<text x="41.30" y="480.45" font-size="6.5" textLength="43.30" lengthAdjust="spacingAndGlyphs" stroke-width="0.08">Median survival</text>
<text x="117.15" y="480.45" font-size="6.5" text-anchor="middle" stroke-width="0.08">6</text>
<text x="169.80" y="480.45" font-size="6.5" text-anchor="middle" stroke-width="0.08">8</text>
<text x="223.15" y="480.45" font-size="6.5" text-anchor="middle" stroke-width="0.08">40</text>
<text x="107.70" y="442.90" font-size="6.6" textLength="11.20" lengthAdjust="spacingAndGlyphs" stroke-width="0.08">P53</text>
<text x="118.80" y="440.20" font-size="3.8" textLength="7.80" lengthAdjust="spacingAndGlyphs" stroke-width="0">high</text>
<text x="155.20" y="442.90" font-size="6.6" textLength="11.20" lengthAdjust="spacingAndGlyphs" stroke-width="0.08">P53</text>
<text x="166.80" y="440.20" font-size="3.8" textLength="18.00" lengthAdjust="spacingAndGlyphs" stroke-width="0">truncated</text>
<text x="270.90" y="270.30" font-size="11.2" font-weight="bold">D</text>
<line x1="303.50" y1="269.50" x2="303.50" y2="405.65" stroke="#231f20" stroke-width="1.3"/>
<line x1="300.50" y1="405.00" x2="303.50" y2="405.00" stroke="#231f20" stroke-width="0.9"/>
<line x1="301.70" y1="399.04" x2="303.50" y2="399.04" stroke="#231f20" stroke-width="0.9"/>
<line x1="301.70" y1="393.07" x2="303.50" y2="393.07" stroke="#231f20" stroke-width="0.9"/>
<line x1="301.70" y1="387.11" x2="303.50" y2="387.11" stroke="#231f20" stroke-width="0.9"/>
<line x1="301.70" y1="381.14" x2="303.50" y2="381.14" stroke="#231f20" stroke-width="0.9"/>
<line x1="301.70" y1="375.18" x2="303.50" y2="375.18" stroke="#231f20" stroke-width="0.9"/>
<line x1="301.70" y1="369.21" x2="303.50" y2="369.21" stroke="#231f20" stroke-width="0.9"/>
<line x1="301.70" y1="363.25" x2="303.50" y2="363.25" stroke="#231f20" stroke-width="0.9"/>
<line x1="301.70" y1="357.28" x2="303.50" y2="357.28" stroke="#231f20" stroke-width="0.9"/>
<line x1="301.70" y1="351.31" x2="303.50" y2="351.31" stroke="#231f20" stroke-width="0.9"/>
<line x1="300.50" y1="345.35" x2="303.50" y2="345.35" stroke="#231f20" stroke-width="0.9"/>
<line x1="301.70" y1="339.38" x2="303.50" y2="339.38" stroke="#231f20" stroke-width="0.9"/>
<line x1="301.70" y1="333.42" x2="303.50" y2="333.42" stroke="#231f20" stroke-width="0.9"/>
<line x1="301.70" y1="327.45" x2="303.50" y2="327.45" stroke="#231f20" stroke-width="0.9"/>
<line x1="301.70" y1="321.49" x2="303.50" y2="321.49" stroke="#231f20" stroke-width="0.9"/>
<line x1="301.70" y1="315.52" x2="303.50" y2="315.52" stroke="#231f20" stroke-width="0.9"/>
<line x1="301.70" y1="309.56" x2="303.50" y2="309.56" stroke="#231f20" stroke-width="0.9"/>
<line x1="301.70" y1="303.60" x2="303.50" y2="303.60" stroke="#231f20" stroke-width="0.9"/>
<line x1="301.70" y1="297.63" x2="303.50" y2="297.63" stroke="#231f20" stroke-width="0.9"/>
<line x1="301.70" y1="291.66" x2="303.50" y2="291.66" stroke="#231f20" stroke-width="0.9"/>
<line x1="300.50" y1="285.70" x2="303.50" y2="285.70" stroke="#231f20" stroke-width="0.9"/>
<line x1="301.70" y1="279.74" x2="303.50" y2="279.74" stroke="#231f20" stroke-width="0.9"/>
<line x1="301.70" y1="273.77" x2="303.50" y2="273.77" stroke="#231f20" stroke-width="0.9"/>
<line x1="302.85" y1="405.00" x2="510.00" y2="405.00" stroke="#231f20" stroke-width="1.3"/>
<line x1="303.50" y1="405.00" x2="303.50" y2="407.80" stroke="#231f20" stroke-width="0.9"/>
<line x1="344.10" y1="405.00" x2="344.10" y2="407.80" stroke="#231f20" stroke-width="0.9"/>
<line x1="384.70" y1="405.00" x2="384.70" y2="407.80" stroke="#231f20" stroke-width="0.9"/>
<line x1="425.30" y1="405.00" x2="425.30" y2="407.80" stroke="#231f20" stroke-width="0.9"/>
<line x1="465.90" y1="405.00" x2="465.90" y2="407.80" stroke="#231f20" stroke-width="0.9"/>
<line x1="506.50" y1="405.00" x2="506.50" y2="407.80" stroke="#231f20" stroke-width="0.9"/>
<text x="297.60" y="288.30" font-size="8" text-anchor="end">100</text>
<text x="297.60" y="347.95" font-size="8" text-anchor="end">50</text>
<text x="297.60" y="407.60" font-size="8" text-anchor="end">0</text>
<text x="303.50" y="417.00" font-size="8" text-anchor="middle">0</text>
<text x="344.10" y="417.00" font-size="8" text-anchor="middle">10</text>
<text x="384.70" y="417.00" font-size="8" text-anchor="middle">20</text>
<text x="425.30" y="417.00" font-size="8" text-anchor="middle">30</text>
<text x="465.90" y="417.00" font-size="8" text-anchor="middle">40</text>
<text x="506.50" y="417.00" font-size="8" text-anchor="middle">50</text>
<text x="364.00" y="430.40" font-size="9.0" textLength="82.30" lengthAdjust="spacingAndGlyphs">Overall survival (months)</text>
<text x="0" y="0" font-size="9.0" transform="translate(278.3,374.8) rotate(-90)" textLength="70.2" lengthAdjust="spacingAndGlyphs">Probability of survival</text>
<path d="M303.50,285.70H384.60V345.40H465.80V405.00" fill="none" stroke="#d4213e" stroke-width="1.3" stroke-linejoin="miter" stroke-linecap="butt"/>
<line x1="340.20" y1="285.70" x2="340.20" y2="283.70" stroke="#d4213e" stroke-width="1.17"/>
<path d="M303.50,285.70H307.40V304.10H311.70V313.30H315.40V322.50H319.40V331.70H323.70V350.10H327.70V377.70H332.00V386.90H336.00V396.10H376.90V405.00" fill="none" stroke="#23609c" stroke-width="1.3" stroke-linejoin="miter" stroke-linecap="butt"/>
<line x1="423.50" y1="290.20" x2="431.50" y2="290.20" stroke="#23609c" stroke-width="1.2"/>
<line x1="427.50" y1="290.20" x2="427.50" y2="288.20" stroke="#23609c" stroke-width="1.0"/>
<line x1="423.50" y1="322.30" x2="431.50" y2="322.30" stroke="#d4213e" stroke-width="1.2"/>
<line x1="427.50" y1="322.30" x2="427.50" y2="320.30" stroke="#d4213e" stroke-width="1.0"/>
<text x="435.40" y="282.20" font-size="8.0" textLength="74.60" lengthAdjust="spacingAndGlyphs">&#8805;1 <tspan font-style="italic">TP53</tspan> mutation with</text>
<text x="435.20" y="290.80" font-size="8.0" textLength="10.60" lengthAdjust="spacingAndGlyphs">CN</text>
<text x="446.10" y="292.60" font-size="4.8" textLength="13.20" lengthAdjust="spacingAndGlyphs" stroke-width="0">intact</text>
<text x="460.30" y="290.80" font-size="8.0" textLength="43.40" lengthAdjust="spacingAndGlyphs">- IHC mutant</text>
<text x="435.40" y="299.50" font-size="8.0" textLength="61.50" lengthAdjust="spacingAndGlyphs">expression pattern</text>
<text x="435.40" y="314.50" font-size="8.0" textLength="74.60" lengthAdjust="spacingAndGlyphs">&#8805;1 <tspan font-style="italic">TP53</tspan> mutation with</text>
<text x="435.20" y="323.00" font-size="8.0" textLength="10.60" lengthAdjust="spacingAndGlyphs">CN</text>
<text x="446.10" y="324.80" font-size="4.8" textLength="13.20" lengthAdjust="spacingAndGlyphs" stroke-width="0">intact</text>
<text x="460.30" y="323.00" font-size="8.0" textLength="50.60" lengthAdjust="spacingAndGlyphs">- IHC wild-type</text>
<text x="435.40" y="331.80" font-size="8.0" textLength="61.50" lengthAdjust="spacingAndGlyphs">expression pattern</text>
<text x="476.30" y="348.60" font-size="8.6" textLength="34.10" lengthAdjust="spacingAndGlyphs">p=0.0046</text>
<rect x="304.20" y="436.30" width="49.90" height="9.35" fill="#b9ccda"/>
<rect x="355.70" y="436.30" width="77.30" height="9.35" fill="#b9ccda"/>
<rect x="434.60" y="436.30" width="78.50" height="9.35" fill="#b9ccda"/>
<rect x="304.20" y="445.65" width="49.90" height="9.35" fill="#dce4ec"/>
<rect x="355.70" y="445.65" width="77.30" height="9.35" fill="#dce4ec"/>
<rect x="434.60" y="445.65" width="78.50" height="9.35" fill="#dce4ec"/>
<rect x="304.20" y="455.00" width="49.90" height="9.35" fill="#b9ccda"/>
<rect x="355.70" y="455.00" width="77.30" height="9.35" fill="#b9ccda"/>
<rect x="434.60" y="455.00" width="78.50" height="9.35" fill="#b9ccda"/>
<rect x="304.20" y="464.35" width="49.90" height="9.35" fill="#dce4ec"/>
<rect x="355.70" y="464.35" width="77.30" height="9.35" fill="#dce4ec"/>
<rect x="434.60" y="464.35" width="78.50" height="9.35" fill="#dce4ec"/>
<rect x="304.20" y="473.70" width="49.90" height="9.35" fill="#b9ccda"/>
<rect x="355.70" y="473.70" width="77.30" height="9.35" fill="#b9ccda"/>
<rect x="434.60" y="473.70" width="78.50" height="9.35" fill="#b9ccda"/>
<text x="305.60" y="443.05" font-size="6.5" textLength="18.80" lengthAdjust="spacingAndGlyphs" stroke-width="0.08">Group</text>
<text x="394.35" y="443.05" font-size="6.5" text-anchor="middle" textLength="45.80" lengthAdjust="spacingAndGlyphs" stroke-width="0.08">P53 IHC mutant</text>
<text x="473.85" y="443.05" font-size="6.5" text-anchor="middle" textLength="51.60" lengthAdjust="spacingAndGlyphs" stroke-width="0.08">P53 IHC wild type</text>
<text x="305.60" y="452.40" font-size="6.5" textLength="4.60" lengthAdjust="spacingAndGlyphs" stroke-width="0.08">N</text>
<text x="394.35" y="452.40" font-size="6.5" text-anchor="middle" stroke-width="0.08">13</text>
<text x="473.85" y="452.40" font-size="6.5" text-anchor="middle" stroke-width="0.08">3</text>
<text x="305.60" y="461.75" font-size="6.5" textLength="31.20" lengthAdjust="spacingAndGlyphs" stroke-width="0.08"># censored</text>
<text x="394.35" y="461.75" font-size="6.5" text-anchor="middle" stroke-width="0.08">0</text>
<text x="473.85" y="461.75" font-size="6.5" text-anchor="middle" stroke-width="0.08">1</text>
<text x="305.60" y="471.10" font-size="6.5" textLength="45.50" lengthAdjust="spacingAndGlyphs" stroke-width="0.08"># deaths/events</text>
<text x="394.35" y="471.10" font-size="6.5" text-anchor="middle" stroke-width="0.08">13</text>
<text x="473.85" y="471.10" font-size="6.5" text-anchor="middle" stroke-width="0.08">2</text>
<text x="305.60" y="480.45" font-size="6.5" textLength="43.30" lengthAdjust="spacingAndGlyphs" stroke-width="0.08">Median survival</text>
<text x="394.35" y="480.45" font-size="6.5" text-anchor="middle" stroke-width="0.08">5</text>
<text x="473.85" y="480.45" font-size="6.5" text-anchor="middle" stroke-width="0.08">30</text>
<rect x="0" y="0" width="520" height="1.1" fill="#000"/><rect x="0" y="0" width="1.1" height="490" fill="#000"/><rect x="518.9" y="0" width="1.1" height="490" fill="#000"/><rect x="0" y="488.8" width="520" height="1.2" fill="#000"/>
</svg>
</body></html>
